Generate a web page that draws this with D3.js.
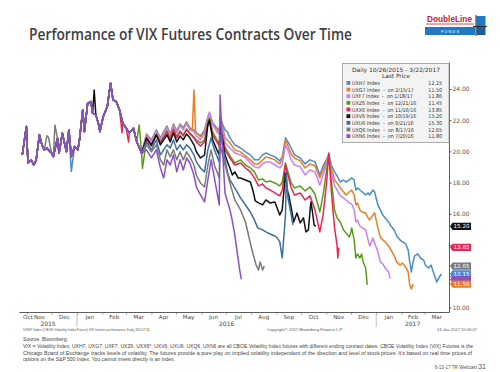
<!DOCTYPE html>
<html><head><meta charset="utf-8">
<script src="https://cdn.jsdelivr.net/npm/d3@7"></script>
<style>body{margin:0;background:#fff}svg{display:block}</style>
</head><body>
<svg id="c" width="500" height="372"></svg>
<script>
// ---------------- DATA ----------------
const seriesNames = ["UXH7","UXG7","UXF7","UXZ6","UXX6","UXV6","UXU6","UXQ6","UXN6"];
const legendLabels = ["UXH7 Index","UXG7 Index  -  on 2/15/17","UXF7 Index  -  on 1/18/17","UXZ6 Index  -  on 12/21/16","UXX6 Index  -  on 11/16/16","UXV6 Index  -  on 10/19/16","UXU6 Index  -  on 9/21/16","UXQ6 Index  -  on 8/17/16","UXN6 Index  -  on 7/20/16"];
const lastPrices = [12.15, 11.50, 11.86, 11.45, 13.85, 15.20, 15.30, 12.65, 11.80];
const tagSeries = ["UXV6","UXX6","UXQ6","UXH7","UXN6","UXG7"];
const tagHiddenText = ["UXN6"];           // covered by the neighbouring tag in the reference
const yTicks = [10,12,14,16,18,20,22,24];
const yTickHiddenLabels = [12,14];        // covered by price tags in the reference
const xDomain = ["2015-10-22","2017-03-31"];
const legendTitle = "Daily 10/26/2015  -  3/22/2017";

// shared path of all contracts until mid-March 2016
const common = [["2015-10-26",19.78],["2015-10-31",21.59],["2015-11-02",19.24],["2015-11-06",19.46],["2015-11-09",19.13],["2015-11-12",19.46],["2015-11-16",21.06],["2015-11-19",20.42],["2015-11-22",20.10],["2015-11-25",20.21],["2015-12-01",19.88],["2015-12-03",19.67],["2015-12-08",20.85],["2015-12-10",19.88],["2015-12-14",21.17],["2015-12-19",19.99],["2015-12-22",21.38],["2015-12-25",19.67],["2015-12-29",20.31],["2016-01-02",20.10],["2016-01-04",20.74],["2016-01-08",22.66],["2016-01-10",21.27],["2016-01-14",23.09],["2016-01-18",23.19],["2016-01-20",22.45],["2016-01-24",22.34],["2016-01-27",21.81],["2016-01-29",21.27],["2016-02-02",22.23],["2016-02-07",22.87],["2016-02-11",24.37],["2016-02-14",23.30],["2016-02-18",23.19],["2016-02-22",22.66],["2016-02-26",21.81],["2016-03-01",21.49],["2016-03-05",21.20],["2016-03-10",21.49],["2016-03-14",20.63],["2016-03-20",19.88]];

const uxh7Early = [["2015-12-25",18.71]];
const uxg7Early = [];
const uxf7Early = [];
const uxz6Early = [["2016-03-17",21.70],["2016-03-21",18.92]];
const uxx6Early = [["2016-02-25",21.20],["2016-03-04",20.60]];
const uxv6Early = [["2016-01-22",23.94]];
const uxu6Early = [];
const uxq6Early = [["2015-11-25",21.00],["2015-11-27",20.90],["2015-12-05",21.70]];
const uxn6Early = [];

const uxh7 = [["2016-03-26",21.12],["2016-04-01",20.74],["2016-04-07",21.38],["2016-04-12",20.87],["2016-04-16",21.25],["2016-04-20",21.63],["2016-04-24",21.12],["2016-04-28",21.76],["2016-05-02",21.31],["2016-05-06",21.76],["2016-05-10",21.51],["2016-05-14",21.89],["2016-05-18",21.51],["2016-05-23",21.38],["2016-05-26",21.19],["2016-05-31",20.99],["2016-06-05",21.38],["2016-06-09",22.21],["2016-06-11",22.40],["2016-06-15",21.83],["2016-06-20",21.51],["2016-06-23",21.31],["2016-06-24",22.21],["2016-06-27",21.76],["2016-06-30",21.38],["2016-07-03",21.25],["2016-07-06",20.87],["2016-07-12",20.42],["2016-07-19",20.22],["2016-07-25",19.97],["2016-07-31",19.78],["2016-08-05",19.46],["2016-08-10",19.46],["2016-08-15",19.78],["2016-08-19",19.90],["2016-08-24",19.78],["2016-08-30",19.65],["2016-09-05",19.39],["2016-09-08",19.65],["2016-09-12",20.87],["2016-09-15",20.61],["2016-09-19",20.22],["2016-09-23",19.78],["2016-09-30",19.58],["2016-10-06",19.20],["2016-10-12",19.46],["2016-10-18",19.33],["2016-10-24",18.49],["2016-10-28",19.07],["2016-11-01",19.46],["2016-11-04",19.84],["2016-11-07",19.13],["2016-11-11",18.69],["2016-11-14",18.43],["2016-11-18",18.04],["2016-11-22",18.17],["2016-11-25",18.04],["2016-11-29",18.17],["2016-12-02",18.30],["2016-12-05",18.17],["2016-12-07",17.53],["2016-12-09",17.66],["2016-12-12",17.53],["2016-12-15",17.40],["2016-12-19",17.21],["2016-12-22",17.34],["2016-12-24",17.21],["2016-12-28",17.53],["2016-12-30",17.40],["2017-01-03",16.57],["2017-01-06",16.25],["2017-01-09",15.93],["2017-01-12",15.74],["2017-01-16",15.48],["2017-01-19",15.22],["2017-01-23",14.97],["2017-01-26",14.58],["2017-01-30",14.33],["2017-02-02",14.20],["2017-02-06",14.07],["2017-02-09",13.69],["2017-02-11",12.92],["2017-02-13",12.28],["2017-02-15",12.92],["2017-02-17",13.30],["2017-02-21",13.43],["2017-02-24",13.17],["2017-02-28",13.04],["2017-03-02",12.72],["2017-03-06",12.53],["2017-03-09",12.72],["2017-03-13",12.08],["2017-03-16",11.63],["2017-03-20",12.02],["2017-03-22",12.15]];

const uxg7 = [["2016-03-26",21.06],["2016-04-01",20.67],["2016-04-07",21.31],["2016-04-12",20.80],["2016-04-16",21.19],["2016-04-20",21.57],["2016-04-24",21.06],["2016-04-28",21.70],["2016-05-02",21.25],["2016-05-06",21.70],["2016-05-10",21.44],["2016-05-14",21.83],["2016-05-18",21.44],["2016-05-21",21.31],["2016-05-23",23.94],["2016-05-25",21.25],["2016-05-31",20.93],["2016-06-05",21.25],["2016-06-09",22.15],["2016-06-11",22.47],["2016-06-15",21.76],["2016-06-20",21.38],["2016-06-23",21.19],["2016-06-24",22.15],["2016-06-27",21.63],["2016-06-30",20.87],["2016-07-06",20.55],["2016-07-12",20.10],["2016-07-19",19.97],["2016-07-25",19.71],["2016-07-31",19.46],["2016-08-05",19.20],["2016-08-10",19.20],["2016-08-15",19.46],["2016-08-19",19.65],["2016-08-24",19.58],["2016-08-30",19.46],["2016-09-05",19.20],["2016-09-08",19.46],["2016-09-12",20.74],["2016-09-15",20.35],["2016-09-19",19.84],["2016-09-23",19.58],["2016-09-30",19.39],["2016-10-06",18.94],["2016-10-12",19.20],["2016-10-18",19.07],["2016-10-24",18.30],["2016-10-28",18.81],["2016-11-01",19.33],["2016-11-04",19.78],["2016-11-07",18.94],["2016-11-11",18.17],["2016-11-14",17.98],["2016-11-18",17.66],["2016-11-22",17.40],["2016-11-25",17.21],["2016-11-29",17.40],["2016-12-02",17.53],["2016-12-05",17.21],["2016-12-07",16.57],["2016-12-09",16.70],["2016-12-12",16.25],["2016-12-15",16.12],["2016-12-19",16.06],["2016-12-22",15.74],["2016-12-24",15.61],["2016-12-28",15.93],["2016-12-30",16.06],["2017-01-03",15.10],["2017-01-06",14.52],["2017-01-09",14.33],["2017-01-12",14.20],["2017-01-16",13.94],["2017-01-19",13.69],["2017-01-23",13.30],["2017-01-26",12.92],["2017-01-30",12.72],["2017-02-02",12.85],["2017-02-06",12.60],["2017-02-09",12.28],["2017-02-11",11.44],["2017-02-13",11.19],["2017-02-15",11.50]];

const uxf7 = [["2016-03-26",20.99],["2016-04-01",20.61],["2016-04-07",21.25],["2016-04-12",20.74],["2016-04-16",21.12],["2016-04-20",21.51],["2016-04-24",20.99],["2016-04-28",21.63],["2016-05-02",21.19],["2016-05-06",21.63],["2016-05-10",21.38],["2016-05-14",21.76],["2016-05-18",21.38],["2016-05-23",21.25],["2016-05-26",20.99],["2016-05-31",20.74],["2016-06-05",21.12],["2016-06-09",22.15],["2016-06-11",22.53],["2016-06-15",21.70],["2016-06-20",21.25],["2016-06-23",21.06],["2016-06-24",22.02],["2016-06-27",21.51],["2016-06-30",20.55],["2016-07-06",20.22],["2016-07-12",19.90],["2016-07-19",19.78],["2016-07-25",19.58],["2016-07-31",19.26],["2016-08-05",19.01],["2016-08-10",18.94],["2016-08-15",19.20],["2016-08-19",19.33],["2016-08-24",19.33],["2016-08-30",19.13],["2016-09-05",18.94],["2016-09-08",19.13],["2016-09-12",20.42],["2016-09-15",20.10],["2016-09-19",19.46],["2016-09-23",19.13],["2016-09-30",19.01],["2016-10-06",18.49],["2016-10-12",18.81],["2016-10-18",18.69],["2016-10-24",17.85],["2016-10-28",18.49],["2016-11-01",19.13],["2016-11-04",19.78],["2016-11-07",18.69],["2016-11-11",17.79],["2016-11-14",17.53],["2016-11-18",17.15],["2016-11-22",17.02],["2016-11-25",16.89],["2016-11-29",16.70],["2016-12-02",16.63],["2016-12-05",16.25],["2016-12-07",15.48],["2016-12-09",15.61],["2016-12-12",15.22],["2016-12-15",15.10],["2016-12-19",14.97],["2016-12-22",14.33],["2016-12-24",13.94],["2016-12-28",14.46],["2016-12-30",14.13],["2017-01-03",13.56],["2017-01-06",12.92],["2017-01-09",12.79],["2017-01-12",12.53],["2017-01-16",12.28],["2017-01-18",11.86]];

const uxz6 = [["2016-03-26",20.74],["2016-04-01",20.35],["2016-04-07",21.12],["2016-04-12",20.61],["2016-04-16",20.93],["2016-04-20",21.31],["2016-04-24",20.80],["2016-04-28",21.44],["2016-05-02",20.93],["2016-05-06",21.31],["2016-05-10",21.06],["2016-05-14",21.44],["2016-05-18",21.19],["2016-05-23",20.93],["2016-05-26",20.74],["2016-05-31",20.55],["2016-06-05",20.74],["2016-06-09",21.89],["2016-06-11",22.15],["2016-06-15",21.25],["2016-06-20",20.74],["2016-06-23",20.55],["2016-06-24",21.63],["2016-06-27",21.06],["2016-06-30",20.29],["2016-07-06",19.71],["2016-07-12",19.26],["2016-07-19",19.46],["2016-07-25",19.13],["2016-07-31",18.94],["2016-08-05",18.69],["2016-08-10",18.17],["2016-08-15",18.24],["2016-08-19",18.04],["2016-08-24",18.10],["2016-08-30",17.98],["2016-09-05",17.79],["2016-09-08",18.04],["2016-09-12",19.26],["2016-09-15",18.69],["2016-09-19",17.98],["2016-09-23",17.66],["2016-09-30",17.79],["2016-10-06",17.47],["2016-10-12",17.72],["2016-10-18",17.27],["2016-10-24",16.12],["2016-10-28",17.21],["2016-11-01",18.69],["2016-11-04",19.78],["2016-11-07",18.17],["2016-11-11",16.25],["2016-11-14",15.74],["2016-11-18",15.48],["2016-11-22",14.97],["2016-11-25",14.78],["2016-11-29",14.52],["2016-12-01",14.84],["2016-12-02",15.10],["2016-12-05",14.33],["2016-12-07",13.17],["2016-12-09",13.43],["2016-12-12",13.17],["2016-12-14",13.43],["2016-12-16",12.92],["2016-12-19",12.53],["2016-12-21",11.45]];

const uxx6 = [["2016-03-26",20.74],["2016-04-01",20.35],["2016-04-07",21.06],["2016-04-12",20.55],["2016-04-16",20.87],["2016-04-20",21.25],["2016-04-24",20.74],["2016-04-28",21.38],["2016-05-02",20.87],["2016-05-06",21.25],["2016-05-10",20.99],["2016-05-14",21.38],["2016-05-18",21.12],["2016-05-23",20.87],["2016-05-26",20.61],["2016-05-31",20.35],["2016-06-05",20.61],["2016-06-09",21.70],["2016-06-11",21.89],["2016-06-15",21.06],["2016-06-20",20.61],["2016-06-23",20.35],["2016-06-24",21.51],["2016-06-27",20.87],["2016-06-30",20.10],["2016-07-06",19.58],["2016-07-12",19.13],["2016-07-19",19.26],["2016-07-25",18.94],["2016-07-31",18.69],["2016-08-05",18.30],["2016-08-10",17.79],["2016-08-15",17.92],["2016-08-19",17.66],["2016-08-24",17.53],["2016-08-30",17.34],["2016-09-05",17.15],["2016-09-08",17.53],["2016-09-12",19.13],["2016-09-15",18.49],["2016-09-19",17.66],["2016-09-23",17.21],["2016-09-30",17.34],["2016-10-06",16.89],["2016-10-12",17.15],["2016-10-18",16.25],["2016-10-24",14.84],["2016-10-28",15.93],["2016-11-01",17.85],["2016-11-04",19.90],["2016-11-07",17.53],["2016-11-09",16.25],["2016-11-11",15.10],["2016-11-14",14.01],["2016-11-15",13.17],["2016-11-16",13.85]];

const uxv6 = [["2016-03-26",20.87],["2016-04-01",20.42],["2016-04-07",21.06],["2016-04-12",20.42],["2016-04-16",20.74],["2016-04-20",21.06],["2016-04-24",20.61],["2016-04-28",21.19],["2016-05-02",20.61],["2016-05-06",20.99],["2016-05-10",20.74],["2016-05-14",21.12],["2016-05-18",20.87],["2016-05-23",20.42],["2016-05-26",19.97],["2016-05-31",19.58],["2016-06-05",19.78],["2016-06-09",21.70],["2016-06-11",22.02],["2016-06-15",20.74],["2016-06-20",20.10],["2016-06-23",19.78],["2016-06-24",21.51],["2016-06-27",20.74],["2016-06-30",19.78],["2016-07-03",19.33],["2016-07-06",18.94],["2016-07-09",18.49],["2016-07-12",18.69],["2016-07-16",18.30],["2016-07-19",18.30],["2016-07-25",18.17],["2016-07-31",18.04],["2016-08-03",17.53],["2016-08-06",16.83],["2016-08-10",16.70],["2016-08-15",16.57],["2016-08-19",16.89],["2016-08-24",16.70],["2016-08-30",16.76],["2016-09-05",15.93],["2016-09-08",16.25],["2016-09-12",18.62],["2016-09-14",17.53],["2016-09-16",17.21],["2016-09-19",16.38],["2016-09-22",15.48],["2016-09-26",16.06],["2016-09-30",15.42],["2016-10-04",15.74],["2016-10-07",14.84],["2016-10-10",14.97],["2016-10-13",16.76],["2016-10-15",16.12],["2016-10-17",15.29],["2016-10-19",15.20]];

const uxu6 = [["2016-03-26",20.61],["2016-04-01",20.10],["2016-04-07",20.74],["2016-04-12",19.78],["2016-04-16",20.10],["2016-04-20",20.42],["2016-04-24",20.22],["2016-04-28",20.74],["2016-05-02",20.10],["2016-05-06",20.42],["2016-05-10",20.10],["2016-05-14",20.42],["2016-05-18",20.22],["2016-05-23",19.78],["2016-05-26",19.33],["2016-05-31",18.94],["2016-06-05",18.69],["2016-06-09",20.10],["2016-06-13",20.87],["2016-06-17",20.10],["2016-06-23",19.33],["2016-06-24",21.06],["2016-06-27",20.42],["2016-06-30",19.46],["2016-07-03",18.69],["2016-07-06",18.17],["2016-07-12",17.66],["2016-07-19",17.02],["2016-07-25",16.57],["2016-07-31",16.12],["2016-08-05",15.61],["2016-08-09",15.10],["2016-08-15",14.97],["2016-08-19",14.84],["2016-08-24",14.71],["2016-08-30",14.58],["2016-09-02",14.45],["2016-09-05",14.20],["2016-09-08",13.17],["2016-09-12",15.93],["2016-09-13",18.69],["2016-09-15",17.02],["2016-09-19",15.93],["2016-09-21",15.30]];

const uxq6 = [["2016-03-26",20.42],["2016-04-01",19.97],["2016-04-07",20.42],["2016-04-12",19.46],["2016-04-16",19.13],["2016-04-20",20.10],["2016-04-24",19.65],["2016-04-28",20.10],["2016-05-02",19.46],["2016-05-06",19.97],["2016-05-10",19.46],["2016-05-14",19.97],["2016-05-18",19.65],["2016-05-23",19.13],["2016-05-26",18.49],["2016-05-31",17.98],["2016-06-05",17.72],["2016-06-09",19.13],["2016-06-13",20.10],["2016-06-17",19.13],["2016-06-23",18.30],["2016-06-24",20.42],["2016-06-27",19.78],["2016-06-30",19.13],["2016-07-06",17.98],["2016-07-12",16.89],["2016-07-19",16.25],["2016-07-25",15.48],["2016-07-31",14.13],["2016-08-03",13.49],["2016-08-07",12.72],["2016-08-10",12.40],["2016-08-12",12.92],["2016-08-15",12.40],["2016-08-17",12.65]];

const uxn6 = [["2016-03-26",20.10],["2016-04-01",19.58],["2016-04-07",20.10],["2016-04-12",18.94],["2016-04-16",18.30],["2016-04-20",19.46],["2016-04-24",19.13],["2016-04-28",19.78],["2016-05-02",18.69],["2016-05-06",19.46],["2016-05-10",18.81],["2016-05-14",19.58],["2016-05-18",19.26],["2016-05-23",18.49],["2016-05-26",17.72],["2016-05-31",17.21],["2016-06-05",16.76],["2016-06-09",18.17],["2016-06-13",19.46],["2016-06-17",18.30],["2016-06-23",16.57],["2016-06-24",23.62],["2016-06-27",20.10],["2016-06-30",17.34],["2016-07-06",16.25],["2016-07-08",15.80],["2016-07-12",14.65],["2016-07-14",13.88],["2016-07-18",12.40],["2016-07-20",11.80]];

const earlyBySeries = [uxh7Early,uxg7Early,uxf7Early,uxz6Early,uxx6Early,uxv6Early,uxu6Early,uxq6Early,uxn6Early];
const tailBySeries = [uxh7,uxg7,uxf7,uxz6,uxx6,uxv6,uxu6,uxq6,uxn6];

// ---------------- STYLE ----------------
const colors = ["#4a8bd0","#ee7d22","#cc80f0","#5b9b1c","#ea2551","#111111","#3a6ea6","#7a7a7a","#8a50c8"];
const txt = "#444";

// ---------------- DRAW ----------------
const svg = d3.select("#c");
svg.append("rect").attr("width",500).attr("height",372).attr("fill","#fff");
const parse = d3.utcParse("%Y-%m-%d");
const x = d3.scaleUtc().domain(xDomain.map(parse)).range([19,449]);
const y = d3.scaleLinear().domain([9.71,25.73]).range([312,62]);

// title
svg.append("text").attr("x",29).attr("y",39.5).text("Performance of VIX Futures Contracts Over Time")
  .attr("font-family","Open Sans, Lato, sans-serif").attr("font-weight",600).attr("font-size",15.5)
  .attr("fill","#404040").attr("textLength",323).attr("lengthAdjust","spacingAndGlyphs");

// logo
const logo = svg.append("g");
logo.append("text").attr("x",427).attr("y",21.8).text("DoubleLine").attr("font-family","Liberation Sans, Arial, sans-serif")
  .attr("font-weight","bold").attr("font-size",8.2).attr("fill","#c8202f").attr("textLength",45).attr("lengthAdjust","spacingAndGlyphs");
logo.append("line").attr("x1",426).attr("x2",474).attr("y1",24).attr("y2",24).attr("stroke","#c8202f").attr("stroke-width",0.8);
logo.append("rect").attr("x",425).attr("y",27).attr("width",50).attr("height",8).attr("fill","#1f78c1");
logo.append("rect").attr("x",476.5).attr("y",16).attr("width",9).attr("height",10).attr("fill","#1f78c1");
logo.append("rect").attr("x",476.5).attr("y",27).attr("width",9).attr("height",8).attr("fill","#1a5f9c");
logo.append("line").attr("x1",476).attr("x2",476).attr("y1",15).attr("y2",36).attr("stroke","#111").attr("stroke-width",0.9);
logo.append("line").attr("x1",473).attr("x2",487).attr("y1",26.5).attr("y2",26.5).attr("stroke","#111").attr("stroke-width",0.9);
logo.append("text").attr("x",450).attr("y",33.2).attr("text-anchor","middle").text("F  U  N  D  S")
  .attr("font-family","Liberation Sans, Arial, sans-serif").attr("font-size",4).attr("fill","#fff");

// series
const series = seriesNames.map((name,i)=>{
  const m = new Map(common.map(d=>[d[0],d[1]]));
  earlyBySeries[i].forEach(d=>m.set(d[0],d[1]));
  const early = [...m.entries()].map(([k,v])=>({date:parse(k),value:v})).sort((a,b)=>a.date-b.date);
  const tail = tailBySeries[i].map(d=>({date:parse(d[0]),value:d[1]}));
  return {name, color:colors[i], values: early.concat(tail)};
});
const line = d3.line().x(d=>x(d.date)).y(d=>y(d.value));
svg.append("g").selectAll("path").data(series).join("path")
  .attr("d",d=>line(d.values)).attr("fill","none").attr("stroke",d=>d.color)
  .attr("stroke-width",1.5).attr("stroke-linejoin","round");

// x axis
const xAxis = d3.axisBottom(x).ticks(d3.utcMonth.every(1)).tickSize(2.5).tickSizeOuter(0).tickFormat("");
const gx = svg.append("g").attr("transform","translate(0,312)").call(xAxis);
gx.select(".domain").attr("stroke","#333").attr("stroke-width",0.8);
gx.selectAll(".tick line").attr("stroke","#555").attr("stroke-width",0.6);
const [d0,d1] = x.domain();
const months = d3.utcMonth.range(d3.utcMonth.floor(d0), d1);
months.forEach(m=>{
  const s = m < d0 ? d0 : m;
  const nx = d3.utcMonth.offset(m,1);
  const e = nx > d1 ? d1 : nx;
  const w = x(e)-x(s);
  const t = svg.append("text").attr("y",318.5).text(d3.utcFormat("%b")(m))
    .attr("font-family","DejaVu Sans, sans-serif").attr("font-size",5.6).attr("fill",txt);
  if (w < 14) t.attr("x",x(s)+4).attr("text-anchor","start");
  else t.attr("x",(x(s)+x(e))/2).attr("text-anchor","middle");
});
const years = d3.utcYear.range(d3.utcYear.floor(d0), d1);
years.forEach(yr=>{
  const s = yr < d0 ? d0 : yr;
  const nx = d3.utcYear.offset(yr,1);
  const e = nx > d1 ? d1 : nx;
  svg.append("text").attr("x",(x(s)+x(e))/2).attr("y",325.5).attr("text-anchor","middle")
    .text(d3.utcFormat("%Y")(yr)).attr("font-family","DejaVu Sans, sans-serif").attr("font-size",6).attr("fill",txt);
  if (yr > d0) svg.append("line").attr("x1",x(yr)).attr("x2",x(yr)).attr("y1",314).attr("y2",327)
    .attr("stroke","#999").attr("stroke-width",0.6);
});

// y axis (right)
const fmt2 = d3.format(".2f");
const yAxis = d3.axisRight(y).tickValues(yTicks).tickSize(2.5).tickSizeOuter(0)
  .tickFormat(v => yTickHiddenLabels.includes(v) ? "" : fmt2(v));
const gy = svg.append("g").attr("transform","translate(449,0)").call(yAxis);
gy.select(".domain").attr("stroke","#333").attr("stroke-width",0.8);
gy.selectAll(".tick line").attr("stroke","#555");
gy.selectAll(".tick text").attr("x",3.5).attr("font-family","DejaVu Sans, sans-serif").attr("font-size",6).attr("fill","#555");

// last price tags
tagSeries.forEach(n=>{
  const i = seriesNames.indexOf(n);
  const yy = y(lastPrices[i]);
  const g = svg.append("g");
  g.append("path").attr("d",`M450,${yy}L452.5,${yy-3.6}L471,${yy-3.6}L471,${yy+3.6}L452.5,${yy+3.6}Z`).attr("fill",colors[i]);
  if (!tagHiddenText.includes(n))
    g.append("text").attr("x",461.5).attr("y",yy+2).attr("text-anchor","middle").text(fmt2(lastPrices[i]))
      .attr("font-family","DejaVu Sans, sans-serif").attr("font-size",5.6).attr("fill","#fff");
});

// legend
const lg = svg.append("g");
lg.append("rect").attr("x",342.5).attr("y",63.5).attr("width",106.5).attr("height",79)
  .attr("fill","#f3f3f3").attr("stroke","#9a9a9a").attr("stroke-width",0.8);
lg.append("text").attr("x",396).attr("y",71.8).attr("text-anchor","middle").text(legendTitle)
  .attr("font-family","DejaVu Sans, sans-serif").attr("font-size",5.8).attr("fill","#333").attr("textLength",88).attr("lengthAdjust","spacingAndGlyphs");
lg.append("text").attr("x",396).attr("y",77.8).attr("text-anchor","middle").text("Last Price")
  .attr("font-family","DejaVu Sans, sans-serif").attr("font-size",5.8).attr("fill","#333");
seriesNames.forEach((n,i)=>{
  const by = 85 + i*6.65;
  lg.append("rect").attr("x",346.5).attr("y",by-4).attr("width",3.8).attr("height",3.8).attr("fill",colors[i]);
  lg.append("text").attr("x",352).attr("y",by).text(legendLabels[i])
    .attr("font-family","DejaVu Sans Condensed, DejaVu Sans, sans-serif").attr("font-size",5.3).attr("fill","#333").style("white-space","pre");
  lg.append("text").attr("x",442).attr("y",by).attr("text-anchor","end").text(fmt2(lastPrices[i]))
    .attr("font-family","DejaVu Sans Condensed, DejaVu Sans, sans-serif").attr("font-size",5.3).attr("fill","#333");
});

// footer
const foot = (t,xx,yy,size,anchor,len,fill)=>{
  const e = svg.append("text").attr("x",xx).attr("y",yy).text(t).attr("font-family","Liberation Sans, Arial, sans-serif")
    .attr("font-size",size).attr("fill",fill||"#555").attr("text-anchor",anchor||"start");
  if (len) e.attr("textLength",len).attr("lengthAdjust","spacingAndGlyphs");
  return e;
};
foot("UXH7 Index (CBOE Volatility Index Future) VIX futures performance   Daily 26OCT15",23,331,4,"start",127);
foot("Copyright\u00A9 2017 Bloomberg Finance L.P.",267,331,4,"start",76);
foot("13-Jun-2017 10:06:07",477,331,4,"end",40);
foot("Source: Bloomberg.",23,341,4.6,"start",45,"#444");
foot("VIX = Volatility Index. UXH7, UXG7, UXF7, UXZ6, UXX6*, UXV6, UXU6, UXQ6, UXN6 are all CBOE Volatility Index futures with different ending contract dates. CBOE Volatility Index (VIX) Futures is the",23,347.8,4.6,"start",450,"#444");
foot("Chicago Board of Exchange tracks levels of volatility. The futures provide a pure play on implied volatility independent of the direction and level of stock prices. It's based on real time prices of",23,354.5,4.6,"start",449,"#444");
foot("options on the S&P 500 Index. You cannot invest directly in an index.",23,361.2,4.6,"start",152,"#444");
const wc = svg.append("text").attr("x",486).attr("y",368.5).attr("text-anchor","end").attr("font-family","Liberation Sans, Arial, sans-serif").attr("fill","#555");
wc.append("tspan").attr("font-size",4.6).text("6-13-17 TR Webcast ");
wc.append("tspan").attr("font-size",7).text("31");
</script>
</body></html>
